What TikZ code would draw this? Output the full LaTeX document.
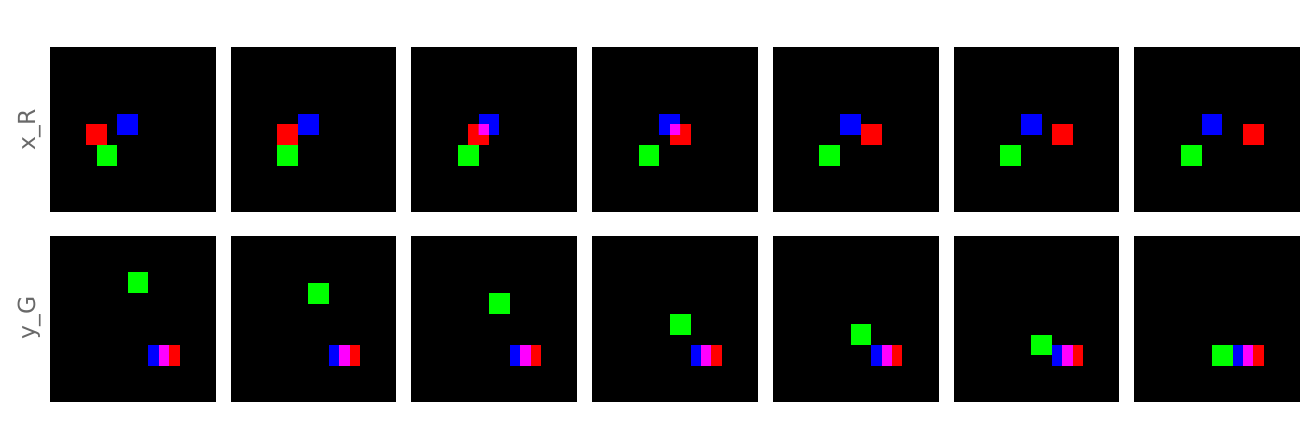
\documentclass[tikz,border=0pt]{standalone}
\usepackage{fontspec}
\setmainfont{DejaVu Sans}
\usepackage{tikz}
\definecolor{pxred}{RGB}{255,0,0}
\definecolor{pxgreen}{RGB}{0,255,0}
\definecolor{pxblue}{RGB}{0,0,255}
\definecolor{pxmag}{RGB}{255,0,255}
\definecolor{lblgray}{RGB}{105,105,105}

\begin{document}
\begin{tikzpicture}[x=1pt, y=-1pt,
  every node/.style={font=\fontsize{23.5}{28}\selectfont, text=lblgray}]
\useasboundingbox (0,0) rectangle (1315,434);
% row labels
\node[rotate=90] (lblxr) at (30,130) {x\_R};
\node[rotate=90] (lblyg) at (30,318) {y\_G};
% 7 frames on a 32x32 grid, squares 4x4 cells; one square moves 2 cells a step
\foreach \i/\t in {0/0,1/1,2/2,3/4,4/5,5/6,6/7}{
  \pgfmathsetmacro{\px}{50+180.7*\i}
  \pgfmathsetmacro{\mv}{7+2*\t}
  % ---- top row: red slides right
  \begin{scope}[shift={(\px,46.7)}, x=5.18pt, y=-5.18pt]
    \fill[black] (0,0) rectangle (32,32);
    \fill[pxgreen] (9,19) rectangle ++(4,4);
    \fill[pxblue] (13,13) rectangle ++(4,4);
    \fill[pxred] (\mv,15) rectangle ++(4,4);
    \begin{scope}
      \clip (13,13) rectangle ++(4,4);
      \fill[pxmag] (\mv,15) rectangle ++(4,4);
    \end{scope}
  \end{scope}
  % ---- bottom row: green slides down
  \begin{scope}[shift={(\px,236.2)}, x=5.18pt, y=-5.18pt]
    \fill[black] (0,0) rectangle (32,32);
    \fill[pxblue] (19,21) rectangle ++(4,4);
    \fill[pxred] (21,21) rectangle ++(4,4);
    \fill[pxmag] (21,21) rectangle ++(2,4);
    \fill[pxgreen] (15,\mv) rectangle ++(4,4);
  \end{scope}
}
\end{tikzpicture}
\end{document}
